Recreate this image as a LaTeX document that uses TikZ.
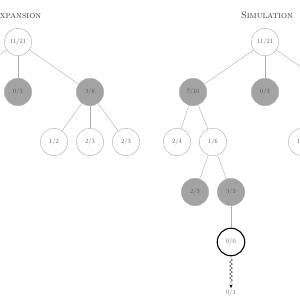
\documentclass[tikz,border=0pt]{standalone}
\usepackage{fontspec}
\usetikzlibrary{arrows.meta,positioning,decorations.pathmorphing}

\definecolor{linegray}{gray}{0.68}
\definecolor{fillgray}{gray}{0.64}
\definecolor{textgray}{gray}{0.3}

\begin{document}
\begin{tikzpicture}[
 x=2pt,y=-2pt,
 every node/.style={font=\fontsize{13}{15}\selectfont,text=textgray},
 tnode/.style={circle,draw=linegray,line width=0.8pt,fill=white,minimum size=55pt,inner sep=0pt},
 visited/.style={tnode,fill=fillgray},
 newnode/.style={tnode,draw=black,line width=2.2pt},
 title/.style={font=\fontsize{19}{22}\selectfont\scshape,text=black!80},
 edge/.style={draw=linegray,line width=0.8pt},
 rollout/.style={-{Stealth[length=7pt,width=6pt]},line width=0.6pt,decorate,
   decoration={snake,amplitude=3pt,segment length=8pt,pre length=5pt,post length=12pt}}
]
 \useasboundingbox (0,0) rectangle (300,300);
 \clip (0,0) rectangle (300,300);
 % expansion
 \node[title] (exptitle) at (17,15) {Expansion};
 \node[tnode] (eroot) at (18,42) {11/21};
 \coordinate (ea) at (-54,92);
 \node[visited] (eb) at (18,92) {0/3};
 \node[visited] (ec) at (90,92) {3/8};
 \node[tnode] (ec1) at (54,142) {1/2};
 \node[tnode] (ec2) at (90,142) {2/3};
 \node[tnode] (ec3) at (126,142) {2/3};
 \draw[edge] (eroot) -- (ea);
 \draw[edge] (eroot) -- (eb);
 \draw[edge] (eroot) -- (ec);
 \draw[edge] (ec) -- (ec1);
 \draw[edge] (ec) -- (ec2);
 \draw[edge] (ec) -- (ec3);
 % simulation
 \node[title] (simtitle) at (267,15) {Simulation};
 \node[tnode] (sroot) at (265,42) {11/21};
 \node[visited] (sa) at (193,92) {7/10};
 \node[visited] (sb) at (265,92) {0/3};
 \coordinate (sc) at (337,92);
 \node[tnode] (sa1) at (177,142) {2/4};
 \node[tnode] (sa2) at (213,142) {1/6};
 \node[tnode] (sc1) at (302,142) {1/3};
 \node[visited] (sa2a) at (195,192) {2/3};
 \node[visited] (sa2b) at (231,192) {3/3};
 \node[newnode] (snew) at (231,242) {0/0};
 \node (result) at (231,293) {0/1};
 \draw[edge] (sroot) -- (sa);
 \draw[edge] (sroot) -- (sb);
 \draw[edge] (sroot) -- (sc);
 \draw[edge] (sa) -- (sa1);
 \draw[edge] (sa) -- (sa2);
 \draw[edge] (sc) -- (sc1);
 \draw[edge] (sa2) -- (sa2a);
 \draw[edge] (sa2) -- (sa2b);
 \draw[edge] (sa2b) -- (snew);
 \draw[rollout] (snew) -- (result);
\end{tikzpicture}
\end{document}
